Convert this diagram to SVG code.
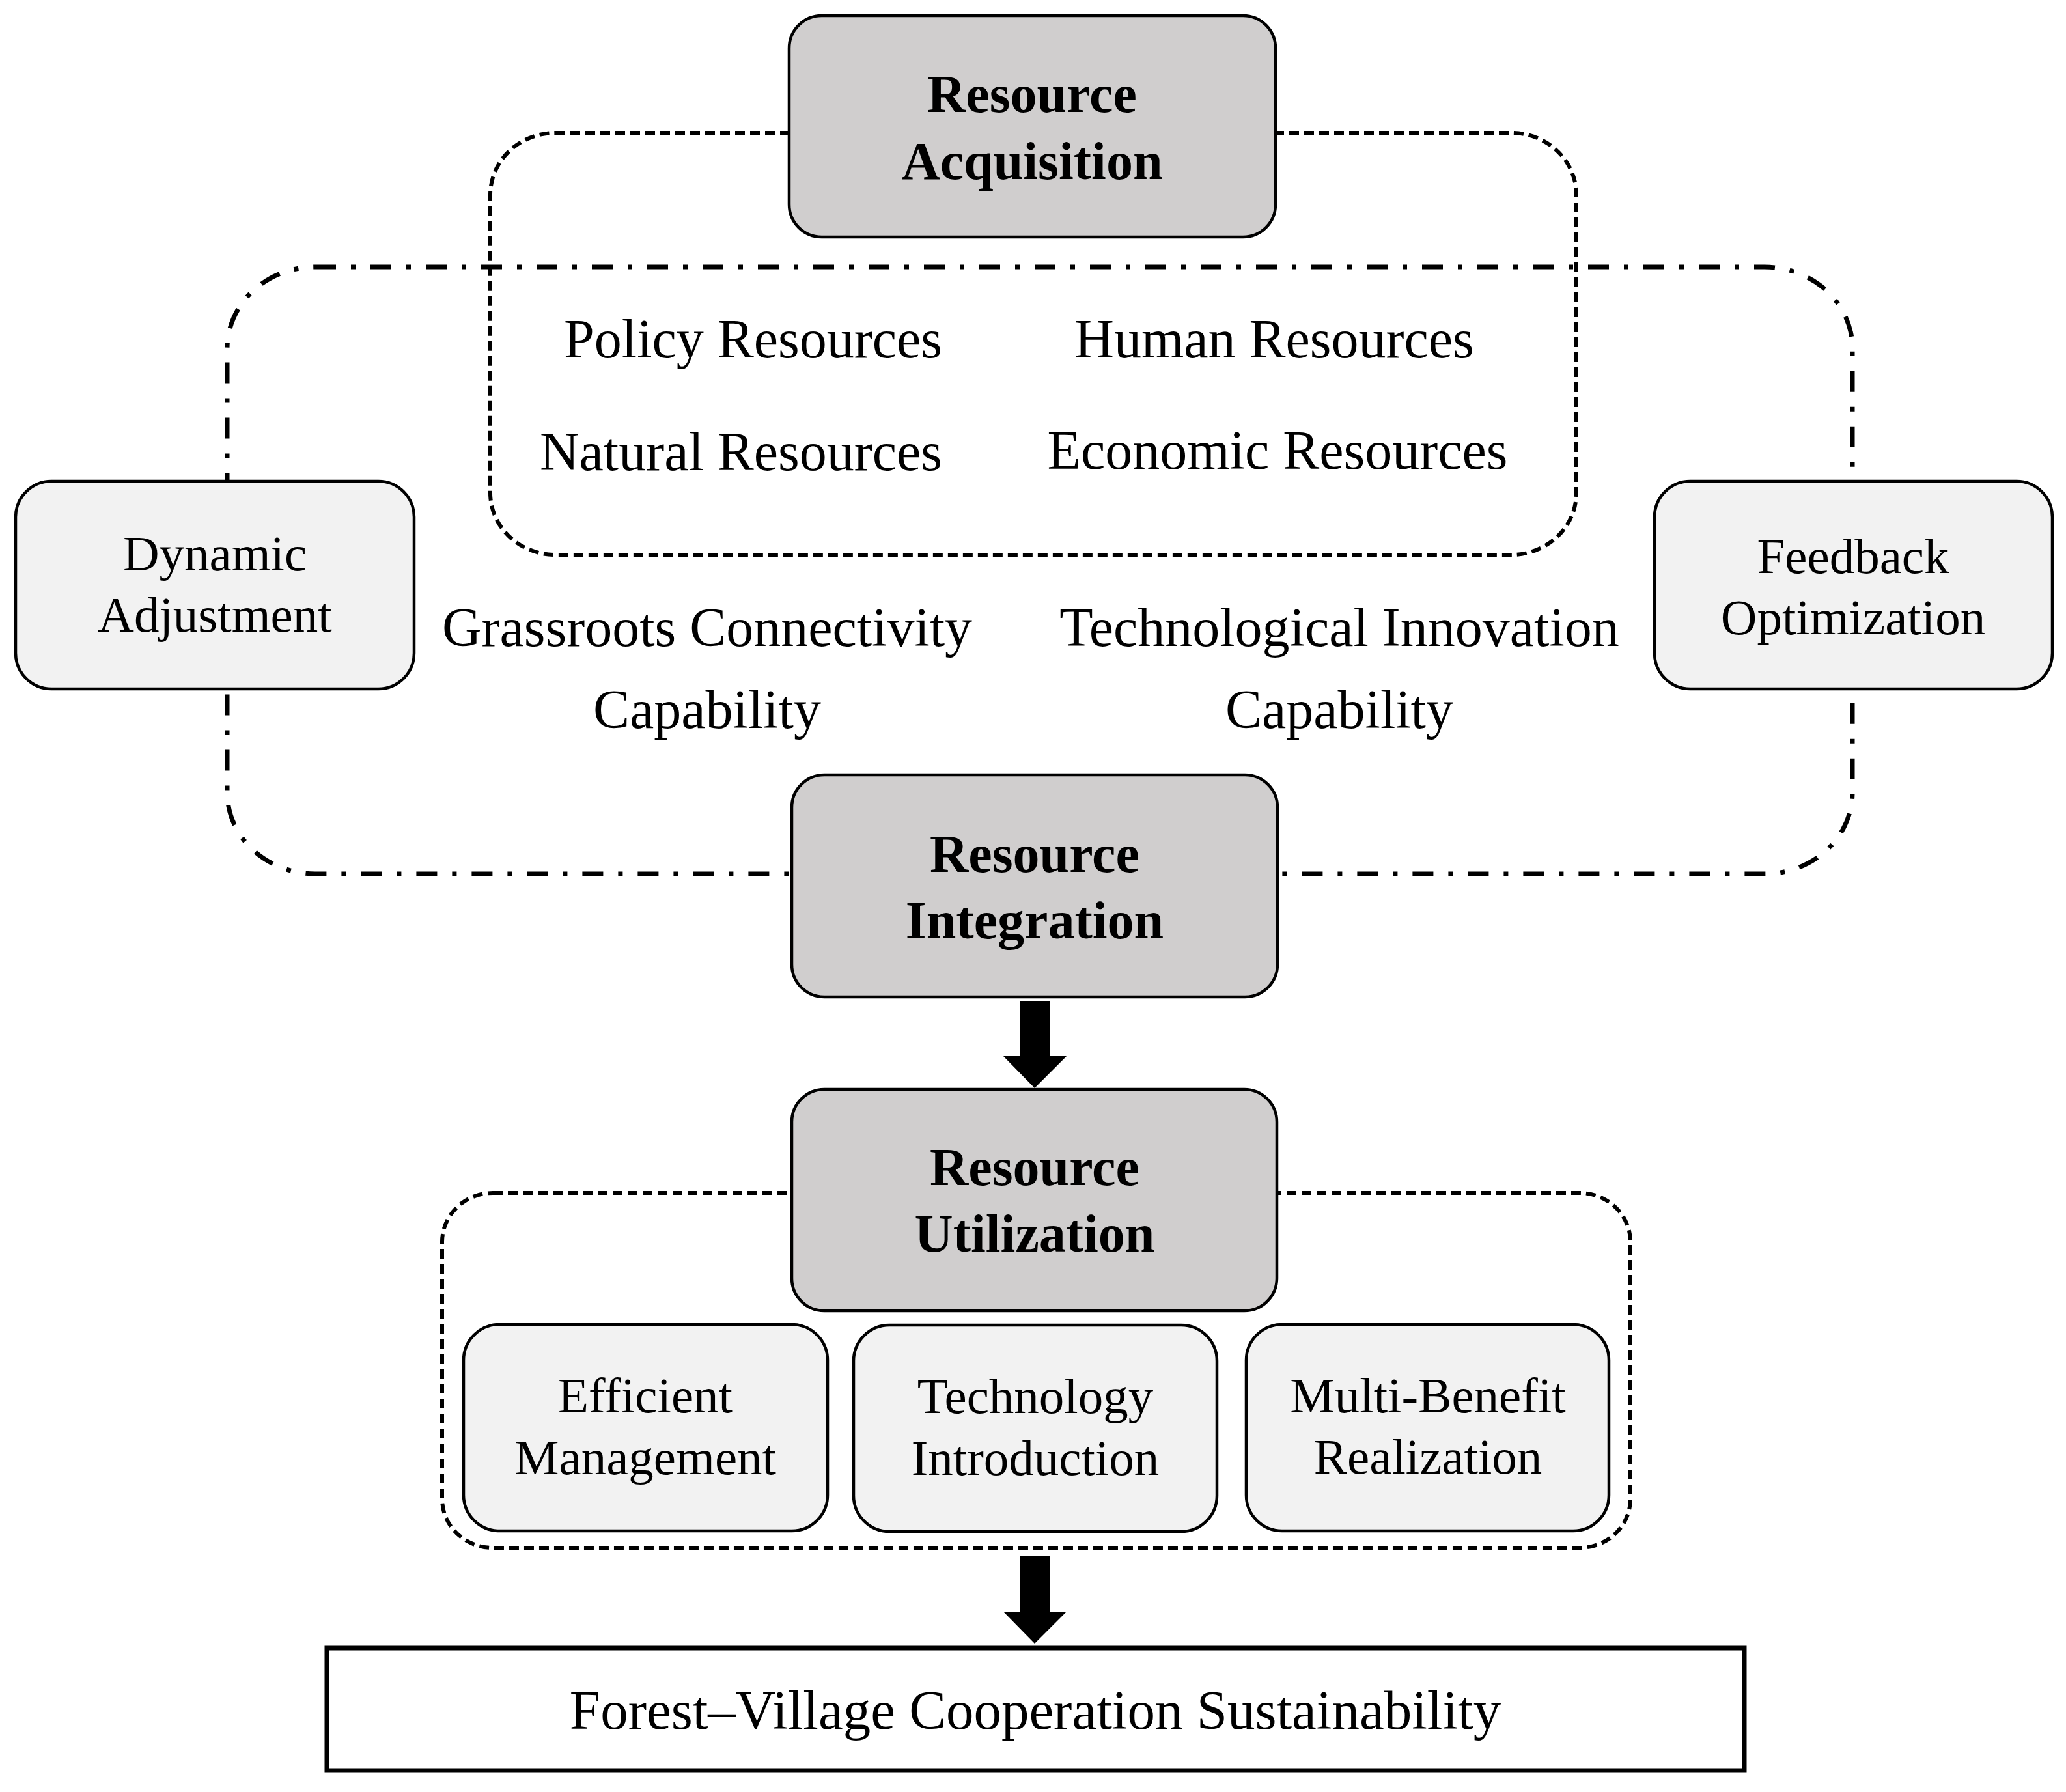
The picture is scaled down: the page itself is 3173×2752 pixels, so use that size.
<svg xmlns="http://www.w3.org/2000/svg" width="3173" height="2752" viewBox="0 0 3173 2752">
<style>
.t{font-family:"Liberation Serif","Times New Roman",serif;fill:#000;text-anchor:middle}
.m{font-size:84px}
.s{font-size:77px}
.b{font-size:82px;font-weight:bold}
.head{fill:#D0CECE;stroke:#000;stroke-width:4.5}
.sub{fill:#F2F2F2;stroke:#000;stroke-width:4.5}
.dash{fill:none;stroke:#000;stroke-width:6;stroke-dasharray:15 8}
.dashdot{fill:none;stroke:#000;stroke-width:7;stroke-dasharray:32 23 7 23}
.arrow{fill:#000}
</style>
<rect width="3173" height="2752" fill="#fff"/>
<g id="frames">
<rect id="resources-frame" class="dash" x="753" y="204" width="1668" height="648" rx="100" ry="95"/>
<rect id="cycle-frame" class="dashdot" x="349" y="410" width="2496" height="932" rx="135" ry="125"/>
<rect id="utilization-frame" class="dash" x="679" y="1832" width="1825" height="545" rx="78" ry="75"/>
</g>
<g id="connectors">
<path class="arrow" d="M1566 1537 H1612 V1622 H1638 L1589 1671 L1541 1622 H1566 Z"/>
<path class="arrow" d="M1566 2390 H1612 V2475 H1638 L1589 2524 L1541 2475 H1566 Z"/>
</g>
<g id="resource-acquisition">
<rect class="head" x="1212" y="24" width="747" height="340" rx="50"/>
<text class="t b" x="1585" y="172">Resource</text>
<text class="t b" x="1585" y="275">Acquisition</text>
</g>
<g id="resource-types">
<text class="t m" x="1447" y="549" style="text-anchor:end">Policy Resources</text>
<text class="t m" x="1447" y="722" style="text-anchor:end">Natural Resources</text>
<text class="t m" x="1957" y="549">Human Resources</text>
<text class="t m" x="1962" y="720">Economic Resources</text>
</g>
<g id="grassroots">
<text class="t m" x="1086" y="992">Grassroots Connectivity</text>
<text class="t m" x="1086" y="1118">Capability</text>
</g>
<g id="technological">
<text class="t m" x="2057" y="992">Technological Innovation</text>
<text class="t m" x="2057" y="1118">Capability</text>
</g>
<g id="dynamic-adjustment">
<rect class="sub" x="24" y="739" width="612" height="319" rx="55"/>
<text class="t s" x="330" y="876">Dynamic</text>
<text class="t s" x="330" y="970">Adjustment</text>
</g>
<g id="feedback-optimization">
<rect class="sub" x="2541" y="739" width="611" height="319" rx="55"/>
<text class="t s" x="2846" y="880">Feedback</text>
<text class="t s" x="2846" y="974">Optimization</text>
</g>
<g id="resource-integration">
<rect class="head" x="1216" y="1190" width="746" height="341" rx="50"/>
<text class="t b" x="1589" y="1339">Resource</text>
<text class="t b" x="1589" y="1441">Integration</text>
</g>
<g id="resource-utilization">
<rect class="head" x="1216" y="1673" width="745" height="340" rx="50"/>
<text class="t b" x="1589" y="1820">Resource</text>
<text class="t b" x="1589" y="1922">Utilization</text>
</g>
<g id="efficient-management">
<rect class="sub" x="712" y="2034" width="559" height="317" rx="55"/>
<text class="t s" x="991" y="2169">Efficient</text>
<text class="t s" x="991" y="2264">Management</text>
</g>
<g id="technology-introduction">
<rect class="sub" x="1311" y="2035" width="558" height="317" rx="55"/>
<text class="t s" x="1590" y="2170">Technology</text>
<text class="t s" x="1590" y="2265">Introduction</text>
</g>
<g id="multi-benefit-realization">
<rect class="sub" x="1914" y="2034" width="557" height="317" rx="55"/>
<text class="t s" x="2193" y="2169">Multi-Benefit</text>
<text class="t s" x="2193" y="2263">Realization</text>
</g>
<g id="sustainability">
<rect x="502" y="2531" width="2177" height="188" fill="#fff" stroke="#000" stroke-width="7"/>
<text class="t" style="font-size:85px" x="1590" y="2655">Forest–Village Cooperation Sustainability</text>
</g>
</svg>
